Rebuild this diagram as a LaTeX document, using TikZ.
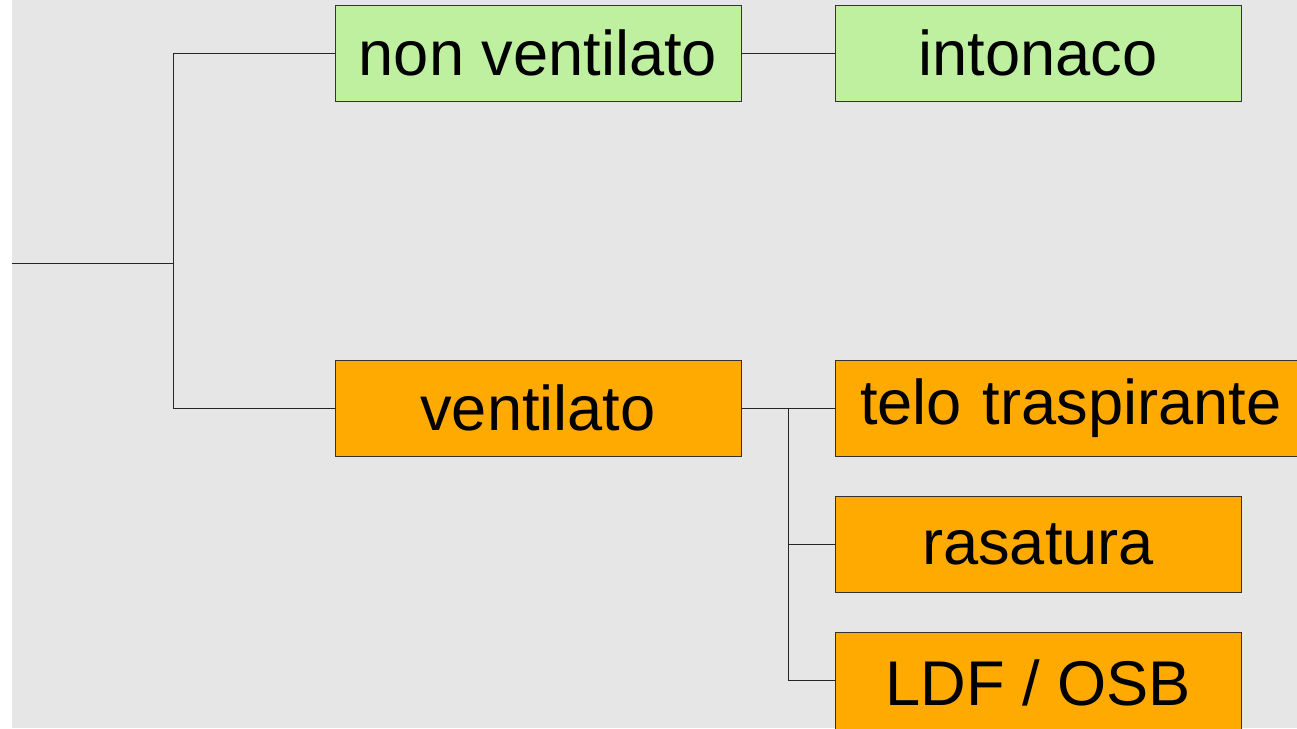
\documentclass[tikz,border=0pt]{standalone}
\usepackage{fontspec}
\setmainfont{Liberation Sans}
\definecolor{bg}{HTML}{E6E6E6}
\definecolor{gbox}{HTML}{BFF0A0}
\definecolor{obox}{HTML}{FFAA00}
\begin{document}
\begin{tikzpicture}[x=1pt,y=-1pt,
  box/.style={draw=black!80, line width=0.8pt, minimum height=96pt, inner sep=0pt, font=\fontsize{63.2}{70}\selectfont, text=black},
  gbx/.style={box, fill=gbox},
  obx/.style={box, fill=obox},
  conn/.style={draw=black!85, line width=0.9pt}]
\useasboundingbox (0,0) rectangle (1297,728);
\clip (0,0) rectangle (1297,728);
\fill[bg] (12,0) rectangle (1297,728);
\node[gbx, minimum width=406pt] (nv) at (538,53) {non ventilato};
\node[gbx, minimum width=406pt] (int) at (1038,53) {intonaco};
\node[obx, minimum width=406pt] (v) at (538,408) {ventilato};
\node[obx, minimum width=470pt, text width=464pt, align=left] (telo) at (1070,408) {\hspace*{22pt}telo traspirante};
\node[obx, minimum width=406pt] (ras) at (1038,544) {rasatura};
\node[obx, minimum width=406pt, minimum height=100pt, anchor=north] (ldf) at (1038,632) {LDF / OSB};
\coordinate (root) at (12,263);
\coordinate (j1) at (173,263);
\coordinate (j2) at (788,408);
\draw[conn] (root) -- (j1);
\draw[conn] (j1) |- (nv.west);
\draw[conn] (j1) |- (v.west);
\draw[conn] (nv.east) -- (int.west);
\draw[conn] (v.east) -- (telo.west);
\draw[conn] (j2) |- (ras.west);
\draw[conn] (j2) |- ([yshift=2pt]ldf.west);
\end{tikzpicture}
\end{document}
